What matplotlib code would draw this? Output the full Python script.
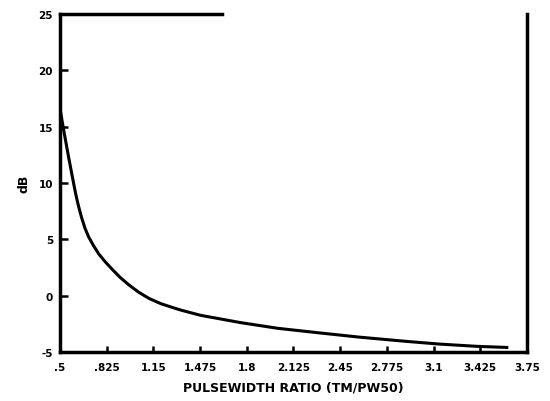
import numpy as np
import matplotlib
matplotlib.use("Agg")
import matplotlib.pyplot as plt

# values
ratio = [0.5, 0.53, 0.56, 0.593, 0.61, 0.628, 0.65, 0.675, 0.70, 0.733, 0.77, 0.815,
         0.87, 0.92, 0.98, 1.048, 1.12, 1.199, 1.27, 1.34, 1.479, 1.759, 2.015,
         2.3, 2.58, 2.9, 3.14, 3.4, 3.61]
db = [16.6, 14.4, 12.3, 10.1, 9.0, 8.0, 6.95, 5.95, 5.2, 4.45, 3.7, 3.0,
      2.25, 1.6, 0.95, 0.3, -0.25, -0.7, -1.0, -1.28, -1.75, -2.4, -2.9,
      -3.3, -3.68, -4.05, -4.3, -4.5, -4.6]

xticks = [0.5, 0.825, 1.15, 1.475, 1.8, 2.125, 2.45, 2.775, 3.1, 3.425, 3.75]
xlabels = ['.5', '.825', '1.15', '1.475', '1.8', '2.125', '2.45', '2.775', '3.1', '3.425', '3.75']
yticks = [-5, 0, 5, 10, 15, 20, 25]
ylabels = ['-5', '0', '5', '10', '15', '20', '25']

fig = plt.figure(figsize=(5.5, 4.02), dpi=100)
ax = fig.add_axes([0.109, 0.122, 0.849, 0.841])

ax.plot(ratio, db, color='black', lw=2.2)

ax.set_xlim(0.5, 3.75)
ax.set_ylim(-5, 25)
ax.set_xticks(xticks)
ax.set_xticklabels(xlabels)
ax.set_yticks(yticks)
ax.set_yticklabels(ylabels)
ax.tick_params(direction='in', length=6, width=1.8, labelsize=7.5, pad=5)
ax.tick_params(axis='x', length=4, pad=7)
for lab in ax.get_xticklabels() + ax.get_yticklabels():
    lab.set_fontweight('bold')

for s in ax.spines.values():
    s.set_linewidth(2.5)
# the scan lost most of the top frame
ax.spines['top'].set_bounds(0.5, 1.63)

ax.set_xlabel('PULSEWIDTH RATIO (TM/PW50)', fontsize=9, fontweight='bold', labelpad=6)
ax.set_ylabel('dB', fontsize=9, fontweight='bold', labelpad=6)

fig.savefig('out.png', dpi=100)
